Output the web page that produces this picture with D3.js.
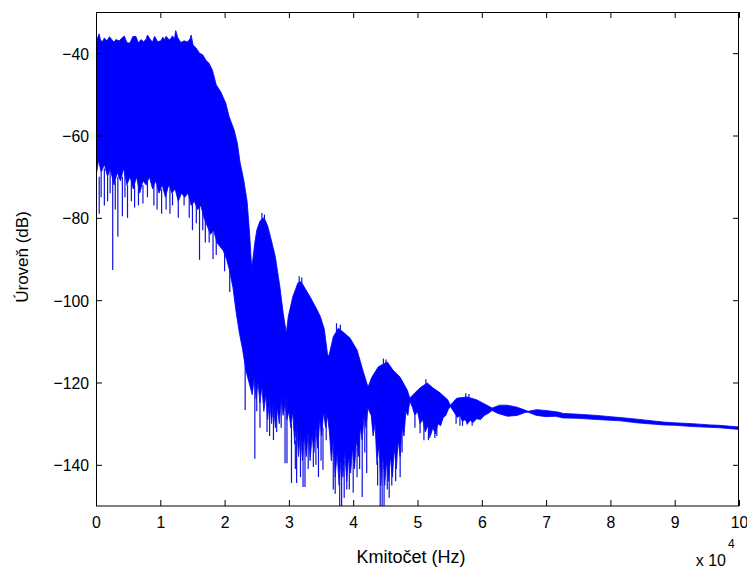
<!DOCTYPE html>
<html><head><meta charset="utf-8">
<script src="https://cdn.jsdelivr.net/npm/d3@7"></script>
<style>html,body{margin:0;padding:0;background:#fff;} svg{display:block;}</style>
</head><body><svg id="chart" width="747" height="570"></svg>
<script>
// ---- data (frequency in units of 10^4 Hz, level in dB) ----
const xTickValues = [0,1,2,3,4,5,6,7,8,9,10];
const yTickValues = [-140,-120,-100,-80,-60,-40];
const xLabel = "Kmitočet (Hz)";
const yLabel = "Úroveň (dB)";

const upperFreq = [0.00,0.02,0.05,0.07,0.10,0.13,0.17,0.21,0.25,0.28,0.31,0.36,0.40,0.44,0.48,0.52,0.55,0.57,0.62,0.66,0.70,0.74,0.78,0.80,0.85,0.88,0.91,0.96,1.01,1.04,1.06,1.09,1.14,1.17,1.19,1.22,1.24,1.27,1.32,1.37,1.42,1.46,1.48,1.51,1.56,1.61,1.66,1.71,1.76,1.81,1.87,1.94,2.02,2.07,2.15,2.20,2.24,2.30,2.35,2.39,2.42,
  2.44,2.47,2.50,2.55,2.60,2.63,2.67,2.72,2.79,2.86,2.91,2.96,
  2.99,3.06,3.14,3.19,3.22,3.33,3.44,3.49,3.55,3.60,
  3.62,3.69,3.77,3.84,3.95,4.06,4.15,4.23,
  4.29,4.39,4.53,4.62,4.73,4.84,4.88,
  4.96,5.04,5.15,5.24,5.35,5.47,5.51,
  5.61,5.77,5.92,6.08,6.16,
  6.28,6.39,6.55,6.67,6.72,
  6.85,7.00,7.20,7.26,7.50,7.79,8.00,8.15,8.41,8.82,9.00,9.28,9.55,9.70,10.0];
const upperDb = [-37.6,-36.4,-35.3,-36.8,-37.2,-36.3,-37.0,-36.0,-36.8,-37.3,-36.7,-37.0,-36.4,-35.8,-37.4,-37.6,-36.8,-36.0,-35.9,-37.5,-36.7,-37.2,-36.6,-35.6,-36.8,-37.3,-35.9,-37.2,-37.0,-36.1,-36.8,-35.9,-36.8,-36.3,-35.8,-36.6,-34.5,-36.2,-37.4,-37.0,-37.3,-36.6,-35.6,-38.0,-38.8,-40.0,-40.4,-41.7,-42.5,-44.1,-47.7,-49.4,-52.2,-55.4,-58.7,-62.0,-66.5,-71.0,-76.0,-84.0,-92.0,
  -90.0,-86.0,-83.0,-80.8,-80.0,-80.5,-82.0,-85.0,-89.5,-96.8,-103.0,-108.0,
  -104.0,-99.2,-95.8,-95.5,-96.3,-99.2,-102.4,-104.0,-107.0,-113.0,
  -113.7,-108.9,-106.8,-107.7,-109.2,-112.1,-117.0,-121.1,
  -118.7,-116.2,-115.0,-117.0,-118.7,-121.8,-123.8,
  -122.5,-121.3,-120.1,-121.3,-122.5,-124.2,-125.5,
  -123.8,-123.5,-124.2,-125.5,-126.2,
  -125.5,-125.5,-126.0,-126.7,-127.0,
  -126.6,-126.8,-127.2,-127.5,-127.7,-128.0,-128.3,-128.5,-128.9,-129.6,-129.8,-130.0,-130.3,-130.4,-130.8];

const lowerFreq = [0.00,0.04,0.08,0.13,0.18,0.22,0.28,0.33,0.38,0.43,0.48,0.53,0.58,0.63,0.68,0.73,0.78,0.83,0.88,0.93,0.98,1.03,1.08,1.13,1.18,1.23,1.28,1.33,1.38,1.43,1.48,1.53,1.58,1.63,1.68,1.73,1.78,1.83,1.88,1.93,1.98,2.03,2.08,2.13,2.18,2.23,2.28,2.33,2.38,2.43,
  2.46,2.49,2.52,2.55,2.58,2.61,2.64,2.67,2.70,2.73,2.76,2.79,2.82,2.85,2.88,2.91,2.94,2.97,
  3.00,3.03,3.06,3.09,3.12,3.15,3.18,3.21,3.24,3.27,3.30,3.33,3.36,3.39,3.42,3.45,3.48,3.51,3.54,3.57,3.60,
  3.63,3.66,3.69,3.72,3.75,3.78,3.81,3.84,3.87,3.90,3.93,3.96,3.99,4.02,4.05,4.08,4.11,4.14,4.17,4.20,4.23,4.25,
  4.28,4.31,4.34,4.37,4.40,4.43,4.46,4.49,4.52,4.55,4.58,4.61,4.64,4.67,4.70,4.73,4.76,4.79,4.82,4.85,4.88,
  4.92,4.96,5.00,5.04,5.08,5.12,5.16,5.20,5.24,5.28,5.32,5.36,5.40,5.44,5.48,5.51,
  5.56,5.62,5.66,5.70,5.74,5.78,5.82,5.86,5.92,5.98,6.04,6.10,6.16,
  6.25,6.40,6.55,6.67,6.72,
  6.85,7.00,7.15,7.26,7.50,7.79,8.15,8.41,8.82,9.00,9.28,9.55,9.70,10.0];
const lowerDb = [-70,-66,-69,-67,-70,-68,-72,-69,-71,-68,-72,-70,-73,-70,-74,-71,-72,-70,-73,-71,-74,-72,-75,-72,-74,-73,-76,-74,-75,-74,-77,-76,-78,-77,-80,-82,-84,-83,-86,-87,-88,-90,-93,-97,-103,-108,-112,-117,-120,-123,
  -119,-124,-120,-125,-121,-127,-123,-129,-124,-130,-125,-131,-126,-130,-124,-128,-125,-129,
  -127,-131,-127,-135,-130,-138,-132,-139,-133,-138,-132,-139,-133,-137,-131,-136,-129,-133,-127,-131,-128,
  -132,-139,-134,-143,-137,-145,-139,-143,-137,-144,-138,-142,-136,-141,-134,-138,-131,-134,-128,-131,-126,-127,
  -128,-133,-130,-140,-135,-145,-138,-145,-139,-144,-138,-143,-136,-141,-134,-138,-131,-133,-127,-128,-124.5,
  -126,-128,-127,-130,-129,-132,-130.5,-133,-131,-132.5,-130,-130.5,-128.5,-128,-126.5,-125.8,
  -127,-128.5,-128,-129.5,-129,-130,-129.2,-129.8,-128.8,-129,-128,-127.5,-126.8,
  -127.5,-128.2,-128,-127.3,-127.2,
  -128,-128.3,-128.2,-128.6,-128.7,-129.0,-129.3,-129.8,-130.3,-130.4,-130.7,-130.9,-131.0,-131.4];

// thin isolated spikes: frequency, start level, end level
const spikeFreq = [0.05,0.08,0.13,0.18,0.22,0.26,0.30,0.34,0.41,0.45,0.49,0.55,0.60,0.66,0.73,0.80,0.90,0.95,1.02,1.09,1.15,1.19,1.28,1.37,1.45,1.50,1.56,1.61,1.66,1.70,1.76,1.82,1.87,2.00,2.08,
  2.32,2.47,2.50,2.55,2.66,2.70,2.76,2.81,2.88,2.94,2.97,3.04,3.10,3.12,3.18,3.22,3.25,3.30,3.38,3.42,3.46,3.50,3.53,3.58,
  3.69,3.72,3.79,3.82,3.86,3.90,3.94,4.00,4.06,4.10,4.14,4.18,4.21,4.38,4.42,4.45,4.48,4.53,4.56,4.60,4.66,4.73,4.76,
  4.96,5.04,5.10,5.17,5.19,5.27,5.30,5.60,5.66,5.70,5.77,5.85];
const spikeFrom = [-70,-69,-68,-70,-68,-70,-71,-70,-70,-69,-72,-71,-72,-71,-72,-71,-72,-72,-73,-74,-73,-74,-75,-74,-75,-76,-76,-77,-78,-80,-82,-83,-85,-88,-92,
  -115,-120,-122,-124,-126,-124,-125,-127,-124,-124,-124,-130,-134,-131,-132,-136,-134,-133,-135,-132,-132,-131,-131,-127,
  -135,-140,-141,-140,-139,-142,-139,-137,-136,-132,-133,-128,-126,-139,-140,-140,-142,-140,-141,-139,-138,-136,-131,
  -128,-129,-130,-130,-131,-131,-131,-128,-128,-129,-129.5,-129.3];
const spikeTo = [-79,-75,-77,-76,-74,-92.7,-78,-84.6,-79.6,-75,-80,-76,-77.5,-77,-76.5,-75,-77,-78,-79,-78,-79,-77,-80,-77,-80,-83,-81.3,-90.2,-83,-86,-86,-90,-89,-93,-98,
  -126.7,-138.5,-127,-131,-132,-133,-134,-132,-131,-139.6,-139.6,-144.4,-141,-144.4,-143,-145.4,-145.4,-141,-140.5,-140,-143,-139,-141.2,-134,
  -146,-147,-151,-151,-148,-146,-146,-146.8,-143,-141,-147.8,-137,-142,-145,-151,-151,-150,-146,-148,-145,-144,-143,-137,
  -131,-132.3,-134,-134,-133.5,-133.5,-133,-130,-130.5,-130.5,-130.2,-130.5];

// small upward spikes on the lobe tops
const upSpikeFreq = [2.58,2.62,3.16,3.20,3.74,3.80,4.47,4.51,5.13,5.75,5.80];
const upSpikeFrom = [-81,-81,-96.5,-96.5,-107.5,-107.5,-116,-116,-121,-124.2,-124.2];
const upSpikeTo   = [-78.8,-79.2,-94.2,-94.5,-105.6,-106,-114.2,-114.4,-119.2,-122.6,-122.8];

// ---- drawing ----
const svg = d3.select("#chart");
const x = d3.scaleLinear().domain([0, 10]).range([96, 739]);
const y = d3.scaleLinear().domain([-150, -30]).range([506, 12]);

svg.append("defs").append("clipPath").attr("id","clip")
  .append("rect").attr("x",96).attr("y",12).attr("width",643).attr("height",494);

const g = svg.append("g").attr("clip-path","url(#clip)");

const upperPts = upperFreq.map((f,i)=>[f, upperDb[i]]);
const lowerPts = lowerFreq.map((f,i)=>[f, lowerDb[i]]).reverse();
const poly = upperPts.concat(lowerPts);
const line = d3.line().x(d=>x(d[0])).y(d=>y(d[1]));

g.append("path").attr("d", line(poly) + "Z")
  .attr("fill","#0000ff").attr("stroke","#0000ff").attr("stroke-width",0.8).attr("stroke-linejoin","round");

g.selectAll("line.spike").data(spikeFreq).enter().append("line")
  .attr("class","spike")
  .attr("x1",(d)=>x(d)).attr("x2",(d)=>x(d))
  .attr("y1",(d,i)=>y(spikeFrom[i])).attr("y2",(d,i)=>y(spikeTo[i]))
  .attr("stroke","#1010e0").attr("stroke-width",1.2);

g.selectAll("line.upspike").data(upSpikeFreq).enter().append("line")
  .attr("class","upspike")
  .attr("x1",(d)=>x(d)).attr("x2",(d)=>x(d))
  .attr("y1",(d,i)=>y(upSpikeFrom[i])).attr("y2",(d,i)=>y(upSpikeTo[i]))
  .attr("stroke","#1010e0").attr("stroke-width",1.2);

// axes
const fontFam = "'Liberation Sans', Arial, Helvetica, sans-serif";
const axB = svg.append("g").attr("transform","translate(0,506)")
  .call(d3.axisBottom(x).tickValues(xTickValues).tickSize(-6).tickSizeOuter(0).tickFormat(d3.format("d")));
const axT = svg.append("g").attr("transform","translate(0,12)")
  .call(d3.axisTop(x).tickValues(xTickValues).tickSize(-6).tickSizeOuter(0).tickFormat(""));
const axL = svg.append("g").attr("transform","translate(96,0)")
  .call(d3.axisLeft(y).tickValues(yTickValues).tickSize(-6).tickSizeOuter(0).tickFormat(d3.format("d")));
const axR = svg.append("g").attr("transform","translate(739,0)")
  .call(d3.axisRight(y).tickValues(yTickValues).tickSize(-6).tickSizeOuter(0).tickFormat(""));

[axB, axT, axL, axR].forEach(a=>{
  a.select(".domain").remove();
  a.selectAll(".tick line").attr("stroke","#000");
});
axB.selectAll(".tick text").attr("y",22).attr("dy",0)
  .attr("font-size",17).attr("font-family",fontFam).attr("fill","#000")
  .attr("transform","scale(0.93,1)");
axL.selectAll(".tick text").attr("x",-7.5).attr("y",6).attr("dy",0)
  .attr("font-size",17).attr("font-family",fontFam).attr("fill","#000")
  .attr("transform","scale(0.93,1)");

svg.append("rect").attr("x",96.5).attr("y",12.5).attr("width",642).attr("height",493.5)
  .attr("fill","none").attr("stroke","#000").attr("stroke-width",1);

// labels
svg.append("text").attr("x",411).attr("y",563).attr("text-anchor","middle")
  .attr("font-size",18).attr("font-family",fontFam).attr("fill","#000").text(xLabel);
svg.append("text").attr("transform","translate(28,257) rotate(-90)").attr("text-anchor","middle")
  .attr("font-size",17).attr("font-family",fontFam).attr("fill","#000").text(yLabel);
svg.append("text").attr("x",726).attr("y",566).attr("text-anchor","end")
  .attr("font-size",16).attr("font-family",fontFam).attr("fill","#000").text("x 10");
svg.append("text").attr("x",728).attr("y",548)
  .attr("font-size",12).attr("font-family",fontFam).attr("fill","#000").text("4");
</script></body></html>
